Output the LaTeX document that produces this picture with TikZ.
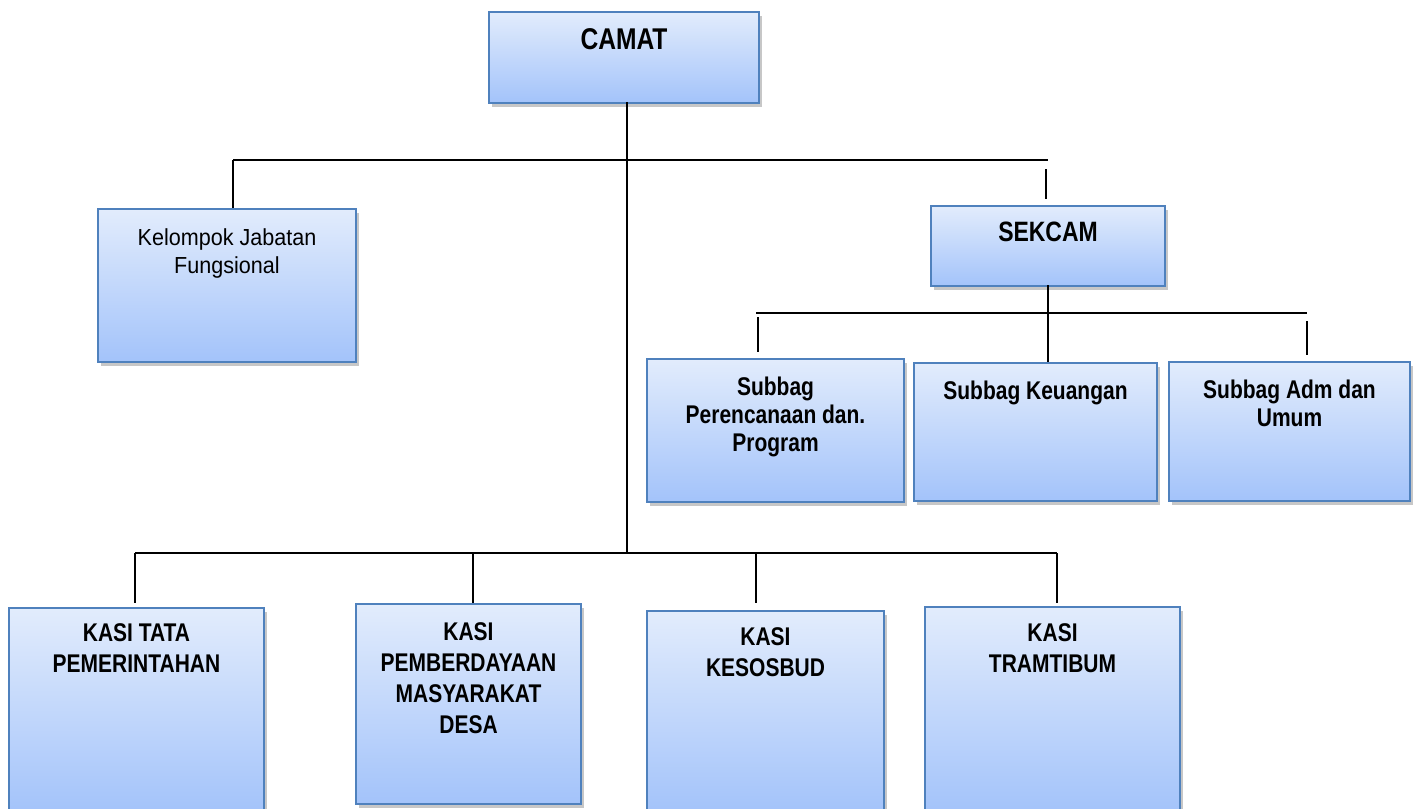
\documentclass[tikz,border=0pt]{standalone}
\usepackage{fontspec}
\setmainfont{Liberation Sans}[FakeStretch=0.82]
\newfontfamily\regfont{Liberation Sans}[FakeStretch=0.93]
\usetikzlibrary{shadows}
\definecolor{boxtop}{RGB}{226,236,252}
\definecolor{boxbot}{RGB}{163,195,250}
\definecolor{boxline}{RGB}{79,129,189}
\tikzset{
  orgbox/.style={draw=boxline, line width=1pt, top color=boxtop, bottom color=boxbot,
    drop shadow={shadow xshift=1.5pt, shadow yshift=-2pt, fill=black, opacity=0.22},
    inner sep=0, anchor=north west},
  lbl/.style={anchor=north, align=center, inner sep=0, font=\bfseries\fontsize{12.8}{14}\selectfont},
  kasi/.style={lbl, font=\bfseries\fontsize{12.8}{15.6}\selectfont},
  conn/.style={line width=1pt, black}
}
\newcommand\mkbox[5]{\node[orgbox, minimum width={(#4-#2)*0.5pt}, minimum height={(#5-#3)*0.5pt}] (#1) at (#2,#3) {};}
\begin{document}
\begin{tikzpicture}[x=0.5pt, y=-0.5pt]
\useasboundingbox (0,0) rectangle (1418,808);
% boxes
\mkbox{camat}{488}{11}{758}{102}
\mkbox{kjf}{97}{208}{355}{361}
\mkbox{sekcam}{930}{205}{1164}{285}
\mkbox{sp}{646}{358}{903}{501}
\mkbox{sk}{913}{362}{1156}{500}
\mkbox{sa}{1168}{361}{1409}{500}
\mkbox{kt}{8}{607}{263}{812}
\mkbox{kp}{355}{603}{580}{803}
\mkbox{kk}{646}{610}{883}{812}
\mkbox{kr}{924}{606}{1179}{812}
% labels
\node[lbl, font=\bfseries\fontsize{15}{18}\selectfont] (tcamat) at ([yshift=-8.5pt]camat.north) {CAMAT};
\node[lbl, font=\regfont\fontsize{11.6}{14}\selectfont] (tkjf) at ([yshift=-10pt]kjf.north) {Kelompok Jabatan\\Fungsional};
\node[lbl, font=\bfseries\fontsize{14}{16}\selectfont] (tsekcam) at ([yshift=-8.5pt]sekcam.north) {SEKCAM};
\node[lbl] (tsp) at ([yshift=-9.5pt]sp.north) {Subbag\\Perencanaan dan.\\Program};
\node[lbl] (tsk) at ([yshift=-9.5pt]sk.north) {Subbag Keuangan};
\node[lbl] (tsa) at ([yshift=-9.5pt]sa.north) {Subbag Adm dan\\Umum};
\node[kasi] (tkt) at ([yshift=-8pt]kt.north) {KASI TATA\\PEMERINTAHAN};
\node[kasi] (tkp) at ([yshift=-9.5pt]kp.north) {KASI\\PEMBERDAYAAN\\MASYARAKAT\\DESA};
\node[kasi] (tkk) at ([yshift=-8.5pt]kk.north) {KASI\\KESOSBUD};
\node[kasi] (tkr) at ([yshift=-8.5pt]kr.north) {KASI\\TRAMTIBUM};
% coordinates
\coordinate (cbot) at (627,102);
\coordinate (busAL) at (233,160);
\coordinate (busAR) at (1048,160);
\coordinate (busC) at (627,553);
\coordinate (busCL) at (135,553);
\coordinate (busCR) at (1057,553);
\coordinate (s1a) at (1046,169);
\coordinate (s1b) at (1046,199);
\coordinate (sdn) at (1048,285);
\coordinate (busBL) at (756,313);
\coordinate (busBR) at (1307,313);
\coordinate (s2a) at (758,317);
\coordinate (s2b) at (758,352);
\coordinate (s3a) at (1307,321);
\coordinate (s3b) at (1307,355);
\coordinate (k1) at (135,603);
\coordinate (k2a) at (473,553);
\coordinate (k3a) at (756,553);
\coordinate (k3b) at (756,603);
\coordinate (k4) at (1057,603);
% connectors
\draw[conn] (cbot) -- (busC);
\draw[conn] (busAL) -- (busAR);
\draw[conn] (busAL) -- (busAL |- kjf.north);
\draw[conn] (s1a) -- (s1b);
\draw[conn] (sdn) -- (sdn |- sk.north);
\draw[conn] (busBL) -- (busBR);
\draw[conn] (s2a) -- (s2b);
\draw[conn] (s3a) -- (s3b);
\draw[conn] (busCL) -- (busCR);
\draw[conn] (busCL) -- (k1);
\draw[conn] (k2a) -- (k2a |- kp.north);
\draw[conn] (k3a) -- (k3b);
\draw[conn] (busCR) -- (k4);
\end{tikzpicture}
\end{document}
